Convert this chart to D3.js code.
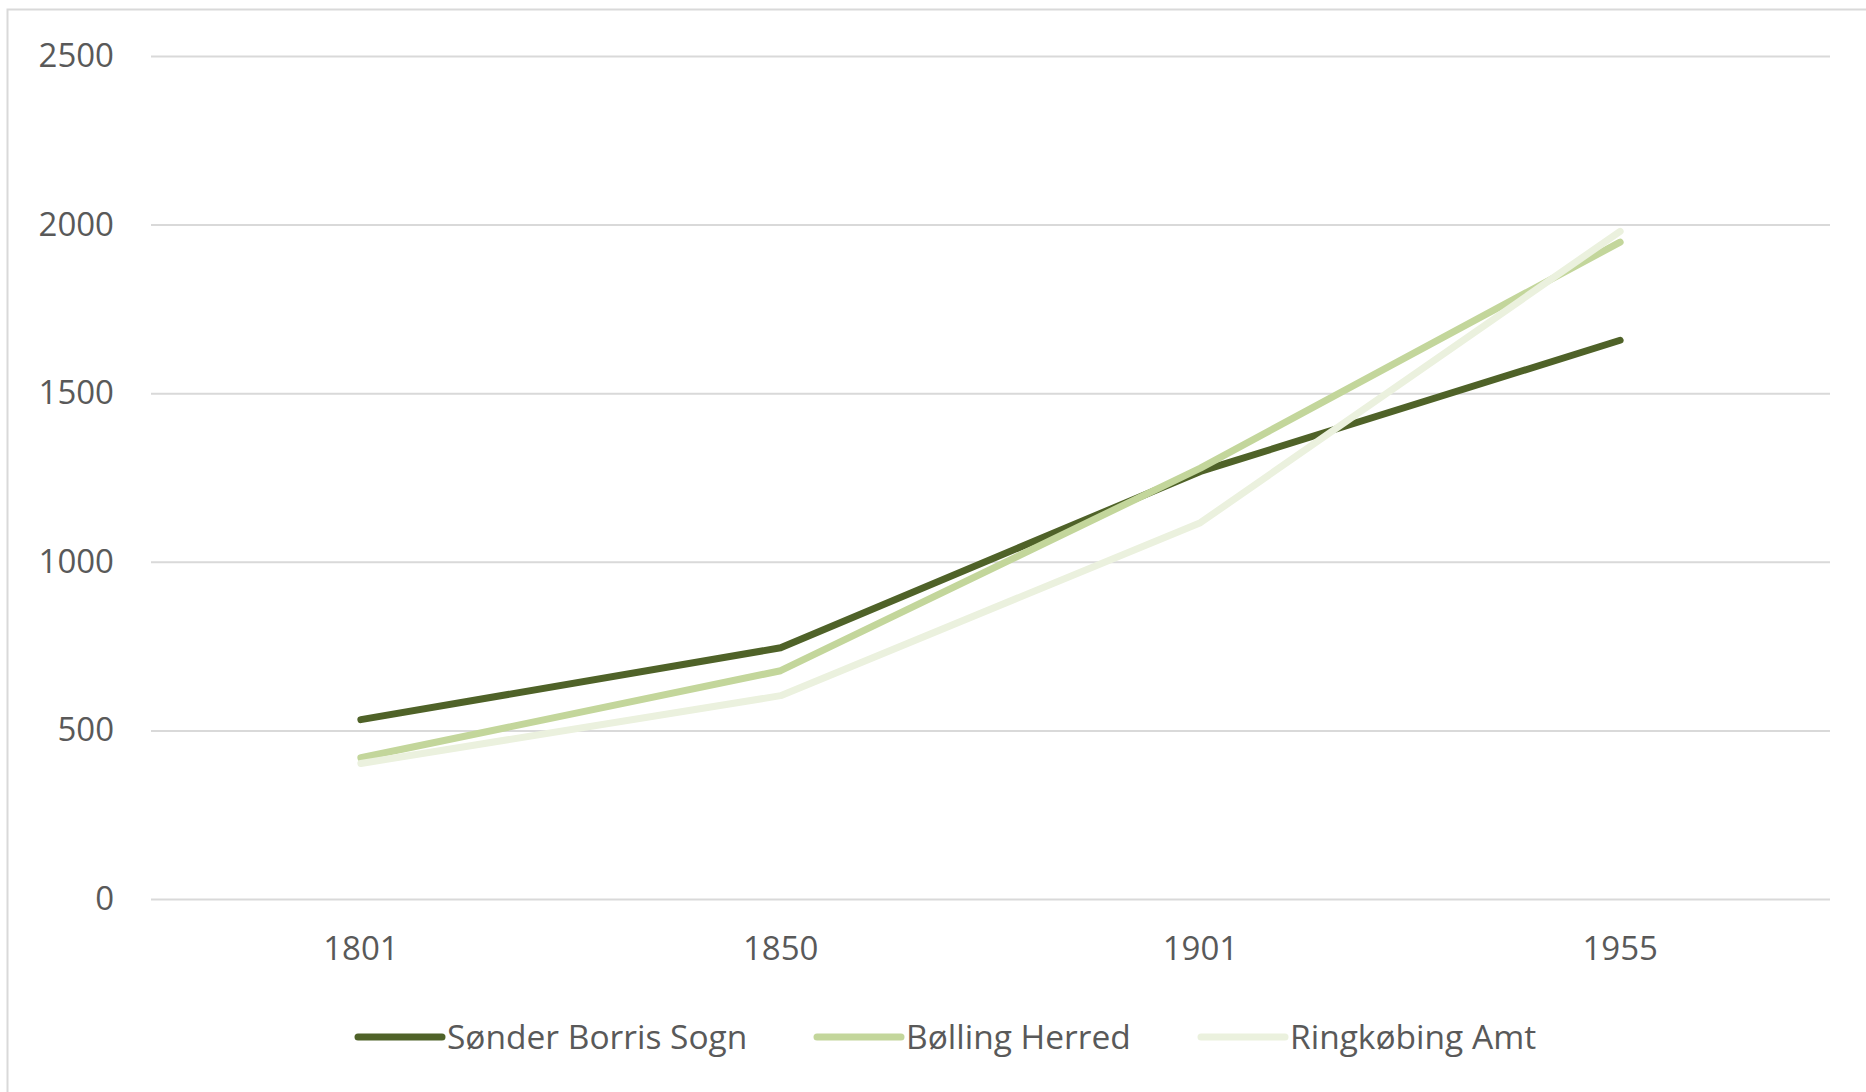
<!DOCTYPE html>
<html><head><meta charset="utf-8">
<script src="https://cdn.jsdelivr.net/npm/d3@7"></script>
<style>html,body{margin:0;padding:0;background:#fff;overflow:hidden}</style>
</head><body>
<svg id="chart" width="1866" height="1092"></svg>
<script>
const categories = ["1801", "1850", "1901", "1955"];
const seriesNames = ["Sønder Borris Sogn", "Bølling Herred", "Ringkøbing Amt"];
const sonderBorris = [532, 745, 1268, 1657];
const bollingHerred = [419, 677, 1278, 1948];
const ringkobingAmt = [402, 603, 1116, 1980];
const yTicks = [0, 500, 1000, 1500, 2000, 2500];
const colors = ["#4f6228", "#c3d69b", "#ebf1de"];

(function () {
const svg = d3.select("#chart");
const font = "'Open Sans', sans-serif";
const textColor = "#595959";

svg.append("rect").attr("x", 7.5).attr("y", 9.5).attr("width", 1900).attr("height", 1200)
  .attr("fill", "#fff").attr("stroke", "#d9d9d9").attr("stroke-width", 2);

const pLeft = 151, pRight = 1830, pTop = 56, pBottom = 899;
const x = d3.scaleBand().domain(categories).range([pLeft, pRight]);
const y = d3.scaleLinear().domain([0, 2500]).range([pBottom, pTop]);

const yAxis = d3.axisLeft(y).tickValues(yTicks).tickFormat(d3.format("d"))
  .tickSize(-(pRight - pLeft)).tickPadding(37);
const gy = svg.append("g").attr("transform", `translate(${pLeft},0)`).call(yAxis);
gy.select(".domain").remove();
gy.selectAll(".tick line").attr("stroke", "#d9d9d9").attr("stroke-width", 2);
gy.selectAll(".tick text").attr("fill", textColor).attr("font-family", font).attr("font-size", 33);

const xAxis = d3.axisBottom(x).tickSize(0).tickPadding(38);
const gx = svg.append("g").attr("transform", `translate(0,${pBottom})`).call(xAxis);
gx.select(".domain").remove();
gx.selectAll(".tick text").attr("fill", textColor).attr("font-family", font).attr("font-size", 33);

const allSeries = [sonderBorris, bollingHerred, ringkobingAmt];
const line = d3.line().x((d, i) => x(categories[i]) + x.bandwidth() / 2).y(d => y(d));
allSeries.forEach((s, k) => {
  svg.append("path").datum(s).attr("d", line).attr("fill", "none")
    .attr("stroke", colors[k]).attr("stroke-width", 7)
    .attr("stroke-linecap", "round").attr("stroke-linejoin", "round");
});

const legendY = 1037;
const legendX = [358, 817, 1201];
seriesNames.forEach((n, k) => {
  const g = svg.append("g").attr("transform", `translate(${legendX[k]},${legendY})`);
  g.append("line").attr("x1", 0).attr("x2", 84).attr("y1", 0).attr("y2", 0)
    .attr("stroke", colors[k]).attr("stroke-width", 7).attr("stroke-linecap", "round");
  g.append("text").attr("x", 89).attr("y", 0).attr("dy", "0.35em")
    .attr("fill", textColor).attr("font-family", font).attr("font-size", 33.5).text(n);
});
})();
</script>
</body></html>
